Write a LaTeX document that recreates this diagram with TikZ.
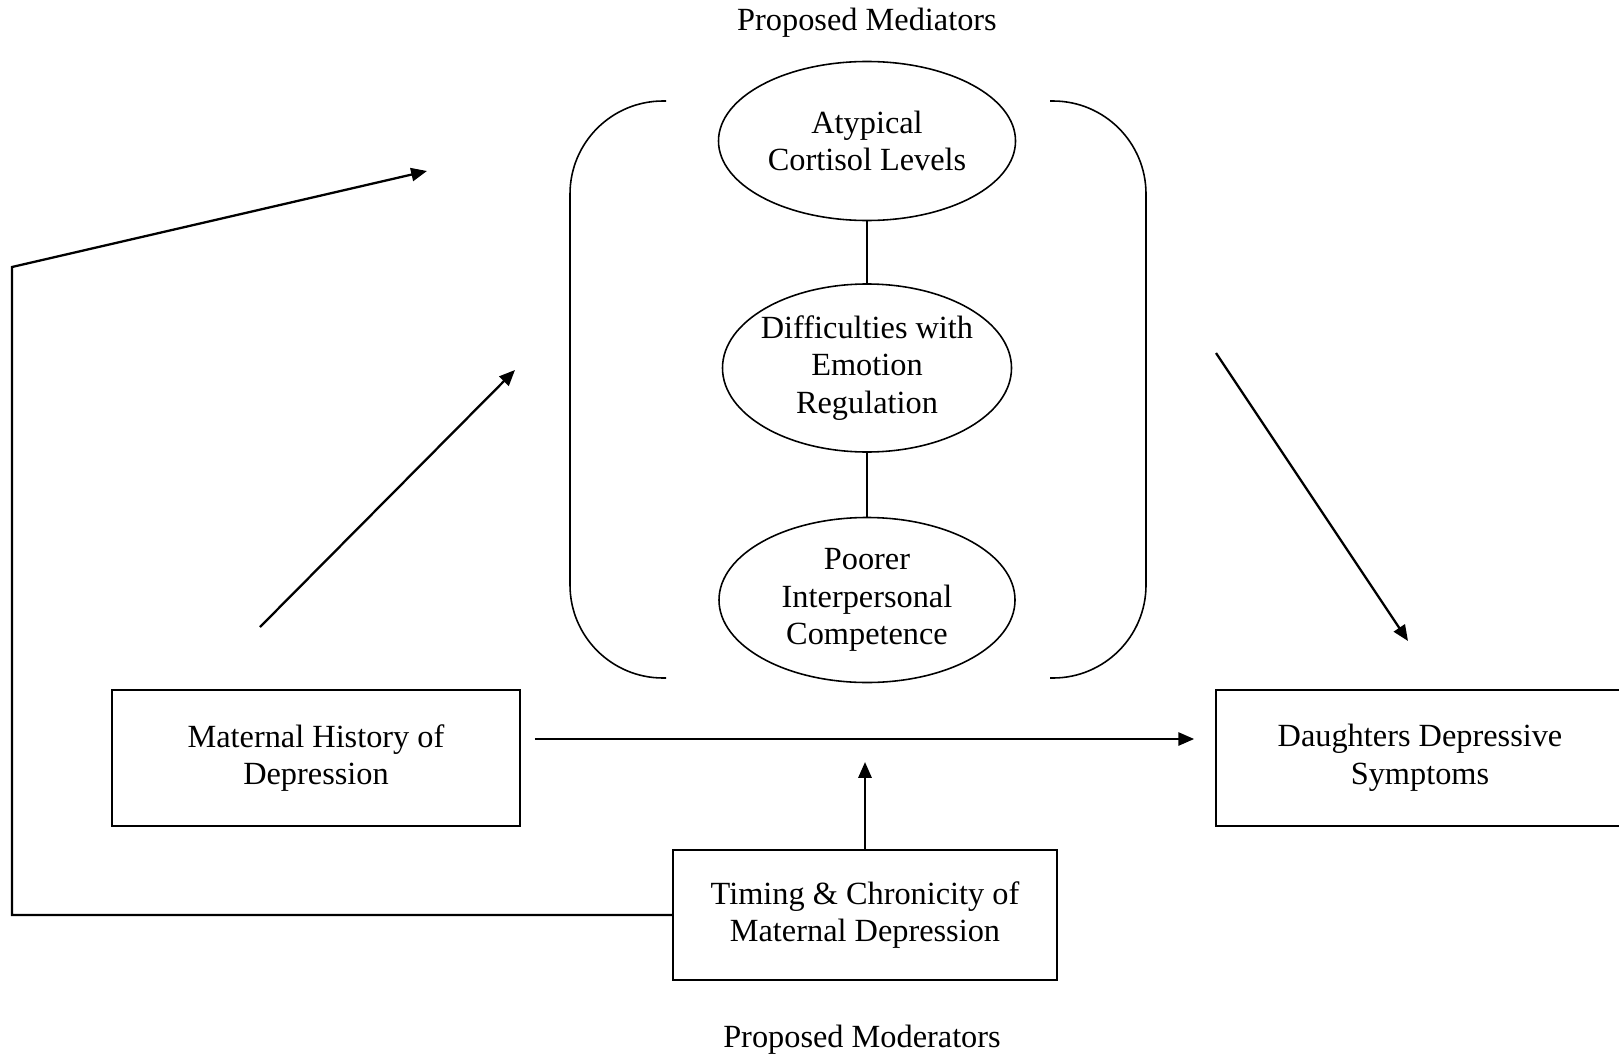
\documentclass[tikz,border=0pt]{standalone}
\usepackage{fontspec}
\setmainfont{Liberation Serif}
\usepackage{tikz}
\usetikzlibrary{arrows.meta}
\usetikzlibrary{shapes}

\begin{document}
\begin{tikzpicture}[x=0.2mm,y=-0.2mm,
    font=\fontsize{18.4}{21.4}\selectfont,
    box/.style={draw,rectangle,line width=1pt,align=center,inner sep=0pt},
    oval/.style={draw,ellipse,line width=0.9pt,align=center,inner sep=0pt},
    arr/.style={line width=1.3pt,-{Triangle[length=9pt,width=7.5pt]}}]
            \useasboundingbox (0,0) rectangle (1619,1058);
            \node (n0) at (867,23){Proposed Mediators};
            \node (n1) at (867,141)[oval,minimum width=59.4mm,minimum height=31.8mm]{Atypical\\Cortisol Levels};
            \node (n2) at (867,368)[oval,inner xsep=-1.3mm,minimum width=57.8mm,minimum height=33.6mm]{Difficulties with\\Emotion\\Regulation};
            \node (n3) at (867,600)[oval,minimum width=59.2mm,minimum height=33mm]{Poorer\\Interpersonal\\Competence};
            \node (n4) at (316,758)[box,minimum width=81.6mm,minimum height=27.2mm]{Maternal History of\\Depression};
            \node (n5) at (1420,758)[box,minimum width=81.6mm,minimum height=27.2mm]{Daughters Depressive\\Symptoms};
            \node (n6) at (865,915)[box,minimum width=76.8mm,minimum height=26mm]{Timing \& Chronicity of\\Maternal Depression};
            \node (n7) at (862,1040){Proposed Moderators};
            % brackets round the mediators
            \draw [line width=0.9pt,rounded corners=18.6mm] (666,101) -- (570,101) -- (570,678) -- (666,678);
            \draw [line width=0.9pt,rounded corners=18.6mm] (1050,101) -- (1146,101) -- (1146,678) -- (1050,678);
            \draw [line width=0.9pt] (n1)--(n2);
            \draw [line width=0.9pt] (n2)--(n3);
            % free arrow ends
            \coordinate (c1) at (12,267);
            \coordinate (c2) at (427,171);
            \coordinate (c3) at (260,627);
            \coordinate (c4) at (515,370);
            \coordinate (c5) at (1216,353);
            \coordinate (c6) at (1408,641);
            \coordinate (c7) at (865,762);
            \draw [arr] (n6.west) -| (c1) -- (c2);
            \draw [arr] (c3)--(c4);
            \draw [arr] (c5)--(c6);
            \draw [arr,shorten <=2.8mm,shorten >=4.2mm] ([yshift=3.8mm]n4.east)--([yshift=3.8mm]n5.west);
            \draw [arr] (n6.north)--(c7);
        \end{tikzpicture}
\end{document}
